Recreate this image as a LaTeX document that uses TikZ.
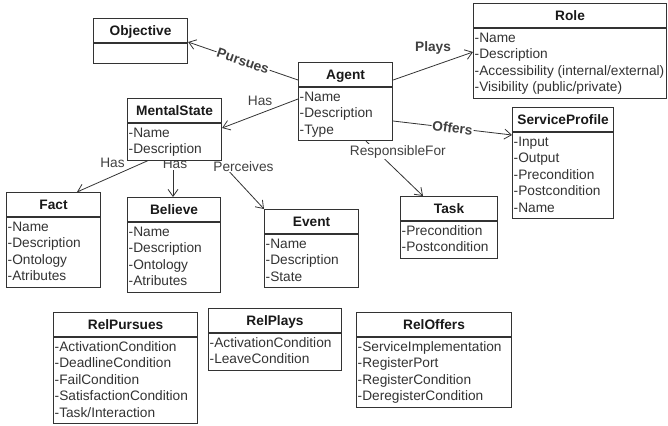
\documentclass[tikz,border=0pt]{standalone}
\usepackage{fontspec}
\setmainfont{Liberation Sans}
\usetikzlibrary{arrows.meta,positioning,calc,backgrounds}

\newcommand{\umlfont}{\fontsize{13.7bp}{16.5bp}\selectfont}
% class box: name, top-left corner, width, number of rows, title, rows
\newcommand{\umlclass}[6]{%
  \node[classbox, minimum width=#3bp, minimum height={28.5bp+16.5bp*#4}, anchor=north west] (#1) at (#2) {};
  \draw[classline] ($(#1.north west)+(0,25)$) -- ($(#1.north east)+(0,25)$);
  \node[classtitle] at ($(#1.north)+(0,17)$) {#5};
  \foreach \row [count=\k from 0] in {#6} {
    \node[classrow] at ($(#1.north west)+(1.5,39+16.5*\k)$) {\row};
  }
}

\begin{document}
\begin{tikzpicture}[
  x=1bp, y=-1bp,
  classbox/.style={draw=black!80, fill=white, line width=1.1bp, inner sep=0pt},
  classline/.style={draw=black!80, line width=1.1bp},
  classtitle/.style={font=\umlfont\bfseries, text=black!90, anchor=base, inner sep=0pt},
  classrow/.style={font=\umlfont, text=black!80, anchor=base west, inner sep=0pt},
  assoc/.style={draw=black!80, line width=0.8bp, -{Straight Barb[length=7bp,width=10bp]}},
  rel/.style={font=\umlfont, text=black!75, inner sep=1bp},
  relbold/.style={rel, font=\umlfont\bfseries}
]
  \useasboundingbox (0,0) rectangle (668,425);

  % classes
  \umlclass{objective}{93,18}{94}{1}{Objective}{}
  \umlclass{agent}{298,62}{94}{3}{Agent}{-Name,-Description,-Type}
  \umlclass{role}{473,3}{193}{4}{Role}{-Name,-Description,-Accessibility (internal/external),-Visibility (public/private)}
  \umlclass{mental}{127,98}{94}{2}{MentalState}{-Name,-Description}
  \umlclass{service}{512,107}{101}{5}{ServiceProfile}{-Input,-Output,-Precondition,-Postcondition,-Name}
  \umlclass{task}{400,196}{97}{2}{Task}{-Precondition,-Postcondition}
  \umlclass{fact}{6,192}{94}{4}{Fact}{-Name,-Description,-Ontology,-Atributes}
  \umlclass{believe}{127,197}{93}{4}{Believe}{-Name,-Description,-Ontology,-Atributes}
  \umlclass{event}{264,209}{94}{3}{Event}{-Name,-Description,-State}
  \umlclass{relpursues}{53,312}{144}{5}{RelPursues}{-ActivationCondition,-DeadlineCondition,-FailCondition,-SatisfactionCondition,-Task/Interaction}
  \umlclass{relplays}{208,308}{133}{2}{RelPlays}{-ActivationCondition,-LeaveCondition}
  \umlclass{reloffers}{356,312}{155}{4}{RelOffers}{-ServiceImplementation,-RegisterPort,-RegisterCondition,-DeregisterCondition}

  % associations, kept behind the boxes
  \begin{scope}[on background layer]
    \draw[assoc] ($(agent.north west)+(0,18)$) -- node[relbold, sloped, fill=white] {Pursues} ($(objective.north east)+(0,24)$);
    \draw[assoc] ($(agent.north east)+(0,18)$) -- node[relbold, midway, yshift=18bp] {Plays} ($(role.north west)+(0,49)$);
    \draw[assoc] ($(agent.north west)+(0,37)$) -- node[rel, midway, yshift=13bp] {Has} ($(mental.north east)+(0,30)$);
    \draw[assoc] ($(agent.north east)+(0,59)$) -- node[relbold, sloped, fill=white] {Offers} ($(service.north west)+(0,28)$);
    \draw[assoc] ($(agent.south west)+(68,0)$) -- node[rel, pos=0.19, xshift=21bp, fill=white] {ResponsibleFor} ($(task.north west)+(23,0)$);
    \draw[assoc] ($(mental.south west)+(21,0)$) -- node[rel, midway, yshift=13bp] {Has} ($(fact.north west)+(71,0)$);
    \draw[assoc] ($(mental.south west)+(46,0)$) -- node[rel, pos=0.1, xshift=2bp, fill=white] {Has} ($(believe.north west)+(46,0)$);
    \draw[assoc] ($(mental.south east)+(-3,0)$) -- node[rel, pos=0.12, xshift=19bp, fill=white] {Perceives} (event.north west);
  \end{scope}
\end{tikzpicture}
\end{document}
